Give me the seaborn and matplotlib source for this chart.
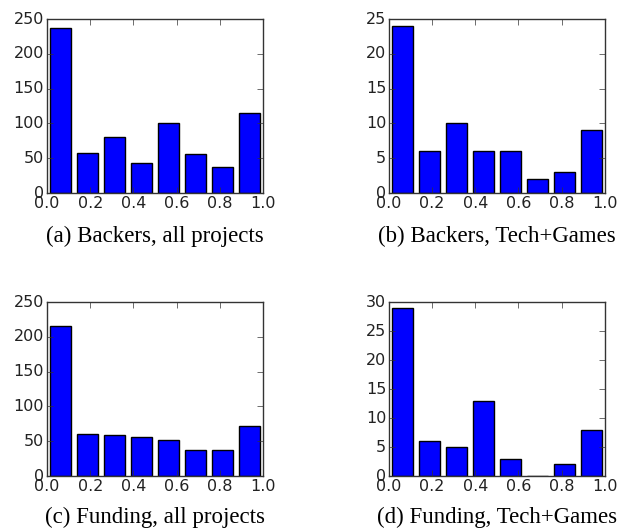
import numpy as np
import matplotlib
matplotlib.use('Agg')
import matplotlib.pyplot as plt
import seaborn as sns

plt.style.use('classic')

# bin layout shared by all four histograms (8 bins over [0, 1])
bin_edges = [0.0, 0.125, 0.25, 0.375, 0.5, 0.625, 0.75, 0.875, 1.0]
bin_centers = [0.0625, 0.1875, 0.3125, 0.4375, 0.5625, 0.6875, 0.8125, 0.9375]

backers_all = [237, 57, 81, 43, 100, 56, 37, 115]
backers_tech = [24, 6, 10, 6, 6, 2, 3, 9]
funding_all = [215, 60, 59, 56, 52, 37, 37, 72]
funding_tech = [29, 6, 5, 13, 3, 0, 2, 8]

captions = ["(a) Backers, all projects", "(b) Backers, Tech+Games",
            "(c) Funding, all projects", "(d) Funding, Tech+Games"]
ymax = [250, 25, 250, 30]
ystep = [50, 5, 50, 5]
counts = [backers_all, backers_tech, funding_all, funding_tech]

fig = plt.figure(figsize=(6.22, 5.29), dpi=100, facecolor='white')

boxes = [
    [0.0756, 0.635, 0.347, 0.329],
    [0.6254, 0.635, 0.347, 0.329],
    [0.0756, 0.100, 0.347, 0.329],
    [0.6254, 0.100, 0.347, 0.329],
]
caption_y = [0.553, 0.553, 0.021, 0.021]

for i in range(4):
    ax = fig.add_axes(boxes[i])
    sns.histplot(x=bin_centers, weights=counts[i], bins=bin_edges, shrink=0.8,
                 color='#0000ff', edgecolor='black', linewidth=1.0, alpha=1,
                 ax=ax)
    ax.set_xlim(0, 1)
    ax.set_ylim(0, ymax[i])
    ax.set_xticks(np.arange(0, 1.01, 0.2))
    ax.set_xticklabels(["0.0", "0.2", "0.4", "0.6", "0.8", "1.0"])
    ax.set_yticks(np.arange(0, ymax[i] + 1, ystep[i]))
    ax.tick_params(labelsize=11.5, pad=2, labelcolor='#222222', color='#333333')
    ax.set_ylabel('')
    ax.set_xlabel('')
    for s in ax.spines.values():
        s.set_color('#333333')
    b = boxes[i]
    fig.text(b[0] + b[2] / 2, caption_y[i], captions[i], ha='center',
             va='center', family='Liberation Serif', fontsize=16.5)

fig.savefig('out.png', dpi=100, facecolor='white')
